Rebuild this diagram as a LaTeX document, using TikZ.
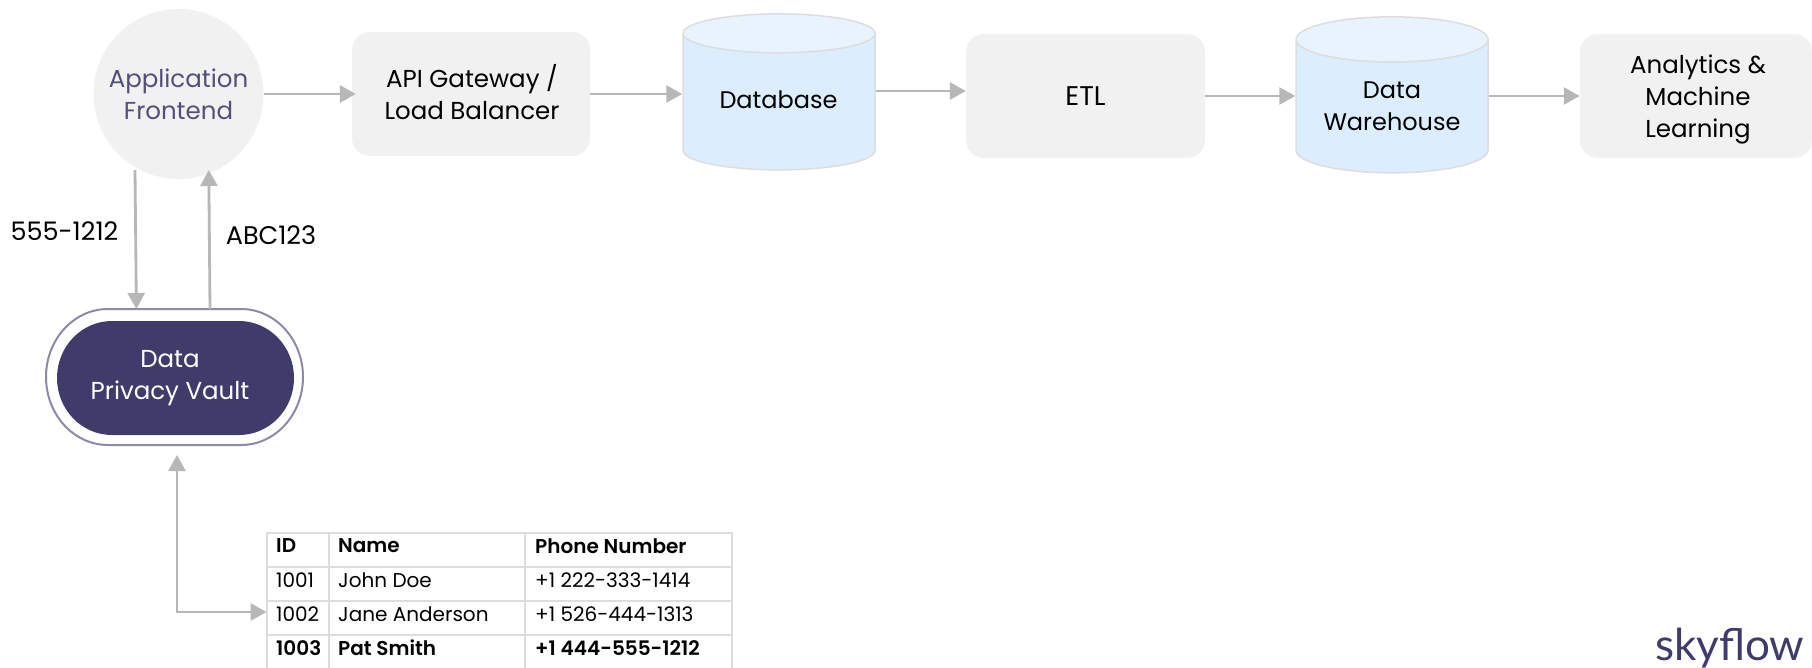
\documentclass[tikz,border=0pt]{standalone}
\usepackage{fontspec}
\setmainfont{Poppins}
\newfontfamily\logofont{Lato}
\newfontfamily\semifont{Poppins SemiBold}
\usetikzlibrary{shapes.geometric,arrows.meta}
\definecolor{boxgray}{HTML}{F1F1F1}
\definecolor{linegray}{HTML}{B7B7B7}
\definecolor{gridgray}{HTML}{DDDDDD}
\definecolor{vaultblue}{HTML}{3F3C6C}
\definecolor{cylbody}{HTML}{DCEDFE}
\definecolor{cyltop}{HTML}{E9F3FE}
\tikzset{
 boxtext/.style={font=\fontsize{24.5}{32}\selectfont,align=center,text=black,inner sep=0pt},
 procbox/.style={boxtext,fill=boxgray,rounded corners=18pt,minimum height=124pt},
 cyl/.style={font=\fontsize{24}{32}\selectfont,cylinder,inner sep=0pt,shape border rotate=90,draw=gridgray,line width=1.5pt,
   cylinder uses custom fill,cylinder body fill=cylbody,cylinder end fill=cyltop,
   minimum width=192pt,minimum height=156pt,aspect=0.33},
 cyltext/.style={font=\fontsize{24}{32}\selectfont,align=center,text=black,inner sep=0pt},
 flow/.style={draw=linegray,line width=2.8pt,-{Triangle[length=16pt,width=17pt]}},
 tabletext/.style={anchor=west,inner sep=0pt,font=\fontsize{20}{24}\selectfont,text=black},
 tablehead/.style={tabletext,font=\fontsize{20}{24}\selectfont\semifont},
 gridline/.style={draw=gridgray,line width=2pt},
}
\begin{document}
\begin{tikzpicture}[x=1pt,y=-1pt]
\path[use as bounding box,clip] (0,0) rectangle (1812,667);
\fill[white] (0,0) rectangle (1812,667);
% vault outline and body
\path[draw=vaultblue!60!white,fill=white,line width=2pt] (108,309) -- (241,309)
  arc[start angle=-90,end angle=0,x radius=62,y radius=68]
  arc[start angle=0,end angle=90,x radius=62,y radius=68]
  -- (108,445)
  arc[start angle=90,end angle=180,x radius=62,y radius=68]
  arc[start angle=180,end angle=270,x radius=62,y radius=68] -- cycle;
\path[fill=vaultblue] (112,321) -- (239,321)
  arc[start angle=-90,end angle=0,x radius=55,y radius=57]
  arc[start angle=0,end angle=90,x radius=55,y radius=57]
  -- (112,435)
  arc[start angle=90,end angle=180,x radius=55,y radius=57]
  arc[start angle=180,end angle=270,x radius=55,y radius=57] -- cycle;
% nodes
\node[boxtext,text=vaultblue!90!white,circle,fill=boxgray,minimum size=170pt] (app) at (178.5,94) {Application\\Frontend};
\node[procbox,minimum width=238pt] (api) at (471,94) {};
\node[boxtext] (apitext) at (472,92) {API Gateway /\\Load Balancer};
\node[cyl] (db) at (779,102) {\phantom{Database}};
\node[cyltext] (dbtext) at (778.5,100) {Database};
\node[procbox,minimum width=239pt,font=\fontsize{27}{32}\selectfont] (etl) at (1085.5,96) {ETL};
\node[cyl] (dw) at (1392,106.5) {\phantom{Warehouse}};
\node[cyltext] (dwtext) at (1392,106) {Data\\Warehouse};
\node[procbox,minimum width=232pt] (ml) at (1696,96) {};
\node[boxtext] (mltext) at (1698,99) {Analytics \&\\Machine\\Learning};
\node[boxtext,text=white] (vault) at (170,378) {Data\\Privacy Vault};
\node[boxtext,font=\fontsize{25.5}{32}\selectfont] (lphone) at (64.5,231) {555-1212};
\node[boxtext,font=\fontsize{25.5}{32}\selectfont] (ltoken) at (271,235) {ABC123};
% connector ends
\coordinate (downs) at (135,170);
\coordinate (downe) at (136.4,309);
\coordinate (ups) at (210,309);
\coordinate (upe) at (208.8,170);
\coordinate (vaultin) at (177,455);
\coordinate (corner) at (177,612);
% connectors
\draw[flow,shorten >=-4pt] (app.east) -- (api.west);
\draw[flow] (api.east) -- (api.east -| db.west);
\draw[flow] (db.east |- 0,91) -- (etl.west |- 0,91);
\draw[flow] (etl.east) -- (etl.east -| dw.west);
\draw[flow] (ml.west -| dw.east) -- (ml.west);
\draw[flow] (downs) -- (downe);
\draw[flow] (ups) -- (upe);
% table
\draw[gridline] (267,680) -- (267,533) -- (732,533) -- (732,680);
\foreach \y in {567,601,635} \draw[gridline] (267,\y) -- (732,\y);
\foreach \x in {329,525} \draw[gridline] (\x,533) -- (\x,680);
\node[tablehead] (h1) at (276,546) {ID};
\node[tablehead] (h2) at (338,546) {Name};
\node[tablehead] (h3) at (535,546) {Phone Number};
\node[tabletext] (a1) at (276,580) {1001};
\node[tabletext] (a2) at (338,580) {John Doe};
\node[tabletext] (a3) at (535,580) {+1 222-333-1414};
\node[tabletext] (b1) at (276,614) {1002};
\node[tabletext] (b2) at (338,614) {Jane Anderson};
\node[tabletext] (b3) at (535,614) {+1 526-444-1313};
\node[tablehead] (c1) at (276,648) {1003};
\node[tablehead] (c2) at (338,648) {Pat Smith};
\node[tablehead] (c3) at (535,648) {+1 444-555-1212};
\coordinate (tablein) at (266.6,612);
\draw[draw=linegray,line width=2.8pt,{Triangle[length=16pt,width=17pt]}-{Triangle[length=16pt,width=17pt]}] (vaultin) -- (corner) -- (tablein);
% logo
\node[anchor=base west,inner sep=0pt,text=vaultblue,font=\fontsize{44}{44}\logofont] (logo) at (1655,660) {skyf{}low};
\end{tikzpicture}
\end{document}
